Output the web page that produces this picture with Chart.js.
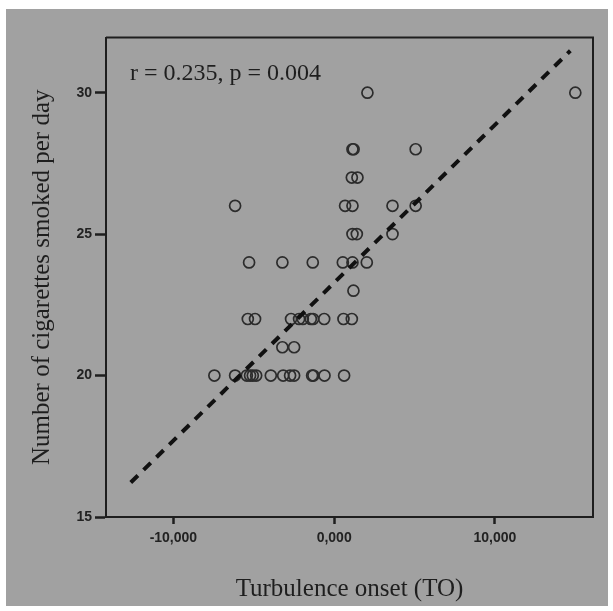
<!DOCTYPE html>
<html><head><meta charset="utf-8">
<script src="https://cdn.jsdelivr.net/npm/chart.js@4"></script>
<style>html,body{margin:0;padding:0;background:#fff;}canvas{display:block;}</style>
</head><body>
<canvas id="c" width="613" height="611"></canvas>
<script>
// Data (x in thousands, shown as "0,000" style labels)
const turbulenceOnset = [
  2.07, 15.0,
  1.14, 1.21, 5.07,
  1.10, 1.45,
  -6.16, 0.68, 1.14, 3.63, 5.07,
  1.14, 1.41, 3.63,
  -5.29, -3.22, -1.33, 0.54, 1.14, 2.03,
  1.20,
  -5.37, -4.92, -2.68, -2.18, -1.95, -1.45, -1.31, -0.62, 0.58, 1.10,
  -3.22, -2.49,
  -7.45, -6.16, -5.43, -5.23, -5.06, -4.85, -3.94, -3.17, -2.74, -2.49, -1.37, -1.29, -0.60, 0.62
];
const cigarettesPerDay = [
  30, 30,
  28, 28, 28,
  27, 27,
  26, 26, 26, 26, 26,
  25, 25, 25,
  24, 24, 24, 24, 24, 24,
  23,
  22, 22, 22, 22, 22, 22, 22, 22, 22, 22,
  21, 21,
  20, 20, 20, 20, 20, 20, 20, 20, 20, 20, 20, 20, 20, 20
];
const fitLineX = [-12.65, 14.69];
const fitLineY = [16.22, 31.48];
const xTickValues = [-10, 0, 10];
const yTickValues = [15, 20, 25, 30];
const annotationText = 'r = 0.235, p = 0.004';
const xTitle = 'Turbulence onset (TO)';
const yTitle = 'Number of cigarettes smoked per day';

const scatterData = turbulenceOnset.map((x, i) => ({x: x, y: cigarettesPerDay[i]}));
const lineData = fitLineX.map((x, i) => ({x: x, y: fitLineY[i]}));

const INK = '#1e1e1e';
const serif = '"Liberation Serif", "Times New Roman", serif';
const sans = '"Liberation Sans", Arial, sans-serif';

const bgPlugin = {
  id: 'bg',
  beforeDraw(chart) {
    const ctx = chart.ctx;
    ctx.save();
    ctx.fillStyle = '#ffffff';
    ctx.fillRect(0, 0, chart.width, chart.height);
    ctx.fillStyle = '#a1a1a1';
    ctx.fillRect(6, 9, 602, 597);
    ctx.restore();
  },
  afterDraw(chart) {
    const {ctx, chartArea: a} = chart;
    ctx.save();
    ctx.strokeStyle = INK;
    ctx.lineWidth = 2;
    ctx.beginPath();
    ctx.moveTo(a.left, a.top);
    ctx.lineTo(a.right, a.top);
    ctx.lineTo(a.right, a.bottom);
    ctx.stroke();
    ctx.fillStyle = INK;
    ctx.font = '24px ' + serif;
    ctx.textBaseline = 'alphabetic';
    ctx.fillText(annotationText, 130, 80);
    ctx.restore();
  }
};

new Chart(document.getElementById('c'), {
  data: {
    datasets: [
      {
        type: 'line',
        data: lineData,
        borderColor: '#111',
        borderWidth: 4,
        borderDash: [10, 8],
        pointRadius: 0,
        fill: false,
        order: 0
      },
      {
        type: 'scatter',
        data: scatterData,
        pointStyle: 'circle',
        pointRadius: 5.5,
        pointBorderWidth: 1.7,
        borderColor: '#2c2c2c',
        backgroundColor: 'rgba(0,0,0,0)',
        order: 1
      }
    ]
  },
  options: {
    responsive: false,
    animation: false,
    devicePixelRatio: 1,
    layout: {padding: {top: 37.5, right: 20, left: 0, bottom: 0}},
    plugins: {legend: {display: false}, tooltip: {enabled: false}},
    scales: {
      x: {
        type: 'linear',
        min: -14.19,
        max: 16.1,
        afterFit(s) { s.height = 94; },
        afterBuildTicks(s) { s.ticks = xTickValues.map(v => ({value: v})); },
        grid: {drawOnChartArea: false, drawTicks: true, tickLength: 7, tickWidth: 2.5, tickColor: INK},
        border: {display: true, color: INK, width: 2},
        ticks: {
          color: '#222',
          font: {family: sans, size: 14, weight: 'bold'},
          padding: 6,
          maxRotation: 0,
          callback: v => v.toFixed(3).replace('.', ',')
        },
        title: {display: true, text: xTitle, color: INK, font: {family: serif, size: 25}, padding: {top: 0, bottom: 7}}
      },
      y: {
        type: 'linear',
        min: 15,
        max: 31.95,
        afterFit(s) { s.width = 106; },
        afterBuildTicks(s) { s.ticks = yTickValues.map(v => ({value: v})); },
        grid: {drawOnChartArea: false, drawTicks: true, tickLength: 11, tickWidth: 2.5, tickColor: INK},
        border: {display: true, color: INK, width: 2},
        ticks: {
          color: '#222',
          font: {family: sans, size: 14, weight: 'bold'},
          padding: 3,
          callback: v => String(v)
        },
        title: {display: true, text: yTitle, color: INK, font: {family: serif, size: 25}, padding: {top: 27, bottom: 0}}
      }
    }
  },
  plugins: [bgPlugin]
});
</script>
</body></html>
